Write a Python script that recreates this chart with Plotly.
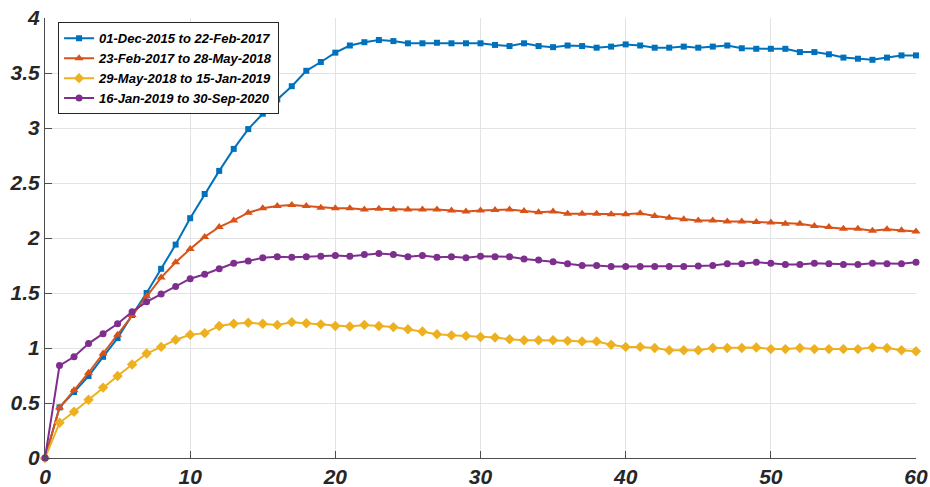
import plotly.graph_objects as go

x = list(range(61))

labels = [
    "01-Dec-2015 to 22-Feb-2017",
    "23-Feb-2017 to 28-May-2018",
    "29-May-2018 to 15-Jan-2019",
    "16-Jan-2019 to 30-Sep-2020",
]

blue = [0, 0.46, 0.60, 0.745, 0.92, 1.09, 1.30, 1.50, 1.72, 1.94,
        2.18, 2.40, 2.61, 2.81, 2.99, 3.13, 3.26, 3.38, 3.52, 3.60,
        3.685, 3.75, 3.78, 3.80, 3.79, 3.77, 3.77, 3.775, 3.77, 3.77,
        3.77, 3.755, 3.745, 3.77, 3.745, 3.735, 3.75, 3.745, 3.73, 3.74,
        3.76, 3.75, 3.73, 3.73, 3.74, 3.73, 3.74, 3.75, 3.725, 3.72,
        3.72, 3.72, 3.69, 3.69, 3.67, 3.64, 3.63, 3.62, 3.64, 3.66,
        3.66]

orange = [0, 0.46, 0.615, 0.775, 0.95, 1.12, 1.30, 1.47, 1.64, 1.78,
          1.90, 2.01, 2.10, 2.16, 2.23, 2.27, 2.29, 2.30, 2.29, 2.275,
          2.27, 2.27, 2.26, 2.265, 2.26, 2.26, 2.26, 2.26, 2.25, 2.24,
          2.25, 2.255, 2.26, 2.245, 2.235, 2.24, 2.22, 2.22, 2.22, 2.215,
          2.215, 2.225, 2.20, 2.185, 2.17, 2.16, 2.16, 2.15, 2.15, 2.145,
          2.14, 2.13, 2.13, 2.11, 2.10, 2.085, 2.085, 2.065, 2.08, 2.07,
          2.06]

yellow = [0, 0.32, 0.42, 0.53, 0.64, 0.745, 0.85, 0.95, 1.01, 1.075,
          1.12, 1.135, 1.20, 1.22, 1.23, 1.22, 1.21, 1.235, 1.225, 1.215,
          1.20, 1.195, 1.21, 1.20, 1.19, 1.17, 1.15, 1.125, 1.115, 1.11,
          1.10, 1.095, 1.08, 1.07, 1.07, 1.07, 1.065, 1.06, 1.06, 1.03,
          1.01, 1.01, 1.00, 0.98, 0.98, 0.98, 1.00, 1.00, 1.00, 1.005,
          0.99, 0.99, 1.00, 0.99, 0.99, 0.99, 0.99, 1.005, 1.00, 0.98,
          0.97]

purple = [0, 0.84, 0.92, 1.04, 1.13, 1.22, 1.33, 1.42, 1.49, 1.56,
          1.63, 1.67, 1.72, 1.77, 1.79, 1.82, 1.83, 1.825, 1.83, 1.835,
          1.84, 1.835, 1.85, 1.86, 1.85, 1.83, 1.84, 1.825, 1.83, 1.82,
          1.835, 1.83, 1.83, 1.81, 1.80, 1.785, 1.765, 1.75, 1.75, 1.74,
          1.74, 1.74, 1.74, 1.74, 1.74, 1.745, 1.75, 1.765, 1.765, 1.78,
          1.77, 1.76, 1.76, 1.77, 1.765, 1.76, 1.76, 1.77, 1.765, 1.765,
          1.78]

series = [blue, orange, yellow, purple]
colors = ["#0072BD", "#D95319", "#EDB120", "#7E2F8E"]
symbols = ["square", "triangle-up", "diamond", "circle"]
sizes = [6, 8, 8, 7]

fig = go.Figure()
for lab, ys, c, s, sz in zip(labels, series, colors, symbols, sizes):
    fig.add_trace(go.Scatter(
        x=x, y=ys, name=lab, mode="lines+markers",
        line=dict(color=c, width=2),
        marker=dict(symbol=s, size=sz, color=c),
        cliponaxis=False,
    ))

tickfont = dict(family="Liberation Sans, Arial, sans-serif", size=21,
                color="#262626", weight="bold", style="italic")

fig.update_layout(
    width=930, height=487,
    margin=dict(l=45, r=14, t=18, b=29),
    paper_bgcolor="white", plot_bgcolor="white",
    showlegend=True,
    legend=dict(
        x=0.015, y=0.99, xanchor="left", yanchor="top",
        bgcolor="white", bordercolor="#262626", borderwidth=1,
        font=dict(family="Liberation Sans, Arial, sans-serif", size=13,
                  color="#000000", weight="bold", style="italic"),
        itemwidth=30, tracegroupgap=0,
    ),
    xaxis=dict(
        range=[0, 60], tickvals=[0, 10, 20, 30, 40, 50, 60],
        showgrid=True, gridcolor="#e3e3e3", gridwidth=1,
        showline=True, linecolor="#4d4d4d", linewidth=1,
        ticks="inside", ticklen=7, tickcolor="#4d4d4d",
        tickfont=tickfont, zeroline=False, automargin=False,
        ticklabeloverflow="allow",
    ),
    yaxis=dict(
        range=[0, 4], tickvals=[0, 0.5, 1, 1.5, 2, 2.5, 3, 3.5, 4],
        ticktext=["0", "0.5", "1", "1.5", "2", "2.5", "3", "3.5", "4"],
        showgrid=True, gridcolor="#e3e3e3", gridwidth=1,
        showline=True, linecolor="#4d4d4d", linewidth=1,
        ticks="inside", ticklen=7, tickcolor="#4d4d4d",
        tickfont=tickfont, zeroline=False, automargin=False,
        ticklabeloverflow="allow",
    ),
)

# remove the default 8px page margin so the 930x487 figure fills the window
fig.write_html("out.html", config={"displayModeBar": False},
               post_script="document.body.style.margin='0';")
